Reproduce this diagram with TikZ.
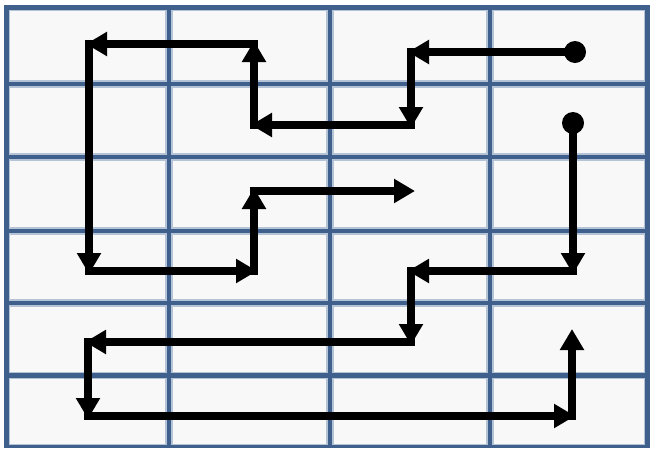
\documentclass[tikz,border=0pt]{standalone}
\usetikzlibrary{arrows.meta}
\definecolor{gridblue}{HTML}{3F5F8C}
\definecolor{celledge}{HTML}{B4C3D6}
\definecolor{cellfill}{HTML}{F8F8F8}
\tikzset{
  cellbox/.style={draw=celledge, line width=1.3pt, fill=cellfill},
  flow/.style={line width=7.5pt, line cap=rect, shorten >=-3pt,
    -{Triangle[length=21pt,width=23pt]}},
  dotnode/.style={circle, fill=black, inner sep=0pt, minimum size=22pt}
}
\begin{document}
\begin{tikzpicture}[x=1pt,y=-1pt]
\useasboundingbox (0,0) rectangle (650,448);
\fill[white] (0,0) rectangle (650,448);
\fill[gridblue] (4,5) rectangle (650,448);
% cells
\foreach \xa/\xb in {9/166.5,171.5/327.5,332.5/487.5,492.5/645}{
  \foreach \ya/\yb in {10/81.5,86.5/154.5,159.5/228.5,233.5/300.5,305.5/373,378/445}{
    \draw[cellbox] (\xa+0.6,\ya+0.6) rectangle (\xb-0.6,\yb-0.6);
  }
}
% path A
\node[dotnode] (a0) at (575,52) {};
\coordinate (a1) at (411,52);
\coordinate (a2) at (411,125);
\coordinate (a3) at (254,125);
\coordinate (a4) at (254,44);
\coordinate (a5) at (89,44);
\coordinate (a6) at (89,271);
\coordinate (a7) at (254,271);
\coordinate (a8) at (254,191);
\coordinate (a9) at (412,191);
\draw[flow] (a0.center) -- (a1);
\draw[flow] (a1) -- (a2);
\draw[flow] (a2) -- (a3);
\draw[flow] (a3) -- (a4);
\draw[flow] (a4) -- (a5);
\draw[flow] (a5) -- (a6);
\draw[flow] (a6) -- (a7);
\draw[flow] (a7) -- (a8);
\draw[flow] (a8) -- (a9);
% path B
\node[dotnode] (b0) at (573,123) {};
\coordinate (b1) at (573,271);
\coordinate (b2) at (411,271);
\coordinate (b3) at (411,342);
\coordinate (b4) at (88,342);
\coordinate (b5) at (88,416);
\coordinate (b6) at (572,416);
\coordinate (b7) at (572,332);
\draw[flow] (b0.center) -- (b1);
\draw[flow] (b1) -- (b2);
\draw[flow] (b2) -- (b3);
\draw[flow] (b3) -- (b4);
\draw[flow] (b4) -- (b5);
\draw[flow] (b5) -- (b6);
\draw[flow] (b6) -- (b7);
\end{tikzpicture}
\end{document}
